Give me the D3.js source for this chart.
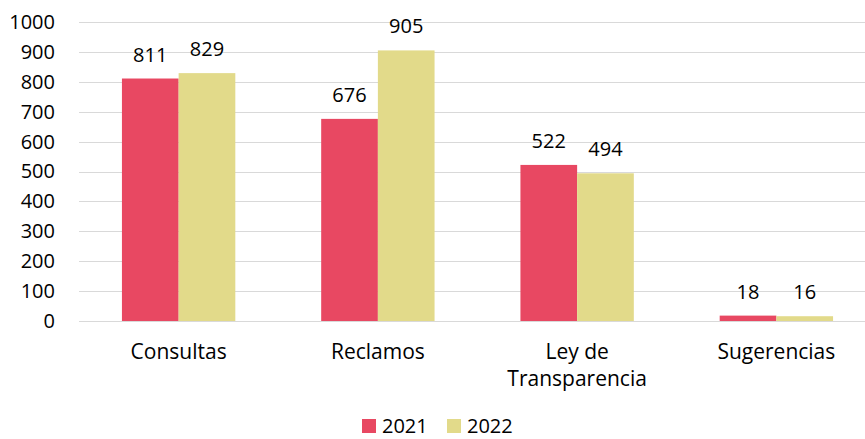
<!DOCTYPE html>
<html lang="es">
<head>
<meta charset="UTF-8">
<script src="https://d3js.org/d3.v7.min.js"></script>
<title>Consultas y reclamos</title>
<style>
body { margin: 0; background: #fff; }
svg { display: block; }
text { font-family: 'Open Sans', sans-serif; fill: #000; }
</style>
</head>
<body>
<svg id="canvas"></svg>
<script>
let categories = ['Consultas', 'Reclamos', 'Ley de Transparencia', 'Sugerencias']
let seriesNames = ['2021', '2022']
let values2021 = [811, 676, 522, 18]
let values2022 = [829, 905, 494, 16]
let yTicks = [0, 100, 200, 300, 400, 500, 600, 700, 800, 900, 1000]
let colors = ['#e84862', '#e2da8a']

let width = 865
let height = 439
let plotLeft = 79, plotRight = 876, plotTop = 22, plotBottom = 321

let svg = d3.select('#canvas').attr('width', width).attr('height', height)

let xScale = d3.scaleBand().domain(categories).range([plotLeft, plotRight]).paddingInner(0.431).paddingOuter(0.2155)
let xInner = d3.scaleBand().domain(seriesNames).range([0, xScale.bandwidth()])
let yScale = d3.scaleLinear().domain([0, 1000]).range([plotBottom, plotTop])

// gridlines
svg.append('g').selectAll('line')
    .data(yTicks)
    .enter()
    .append('line')
    .attr('x1', plotLeft)
    .attr('x2', plotRight)
    .attr('y1', d => Math.round(yScale(d)) + 0.5)
    .attr('y2', d => Math.round(yScale(d)) + 0.5)
    .attr('stroke', '#d9d9d9')
    .attr('stroke-width', 1)

// y axis labels
let yAxis = d3.axisLeft(yScale).tickValues(yTicks).tickFormat(d3.format('d')).tickSize(0).tickPadding(0)
let yg = svg.append('g')
    .attr('transform', 'translate(' + 55 + ',0)')
    .call(yAxis)
yg.select('.domain').remove()
yg.selectAll('text').attr('font-size', '20px').attr('font-family', 'Open Sans, sans-serif').attr('fill', '#000')

let rows = categories.map((c, i) => ({cat: c, vals: [values2021[i], values2022[i]]}))

let groups = svg.append('g').selectAll('g')
    .data(rows)
    .enter()
    .append('g')
    .attr('transform', d => 'translate(' + xScale(d.cat) + ',0)')

groups.selectAll('rect')
    .data(d => d.vals.map((v, j) => ({key: seriesNames[j], v: v, j: j})))
    .enter()
    .append('rect')
    .attr('x', d => xInner(d.key))
    .attr('width', xInner.bandwidth())
    .attr('y', d => yScale(d.v))
    .attr('height', d => yScale(0) - yScale(d.v))
    .attr('fill', d => colors[d.j])

groups.selectAll('text')
    .data(d => d.vals.map((v, j) => ({key: seriesNames[j], v: v, j: j})))
    .enter()
    .append('text')
    .attr('x', d => xInner(d.key) + xInner.bandwidth() / 2)
    .attr('y', d => yScale(d.v) - 17)
    .attr('text-anchor', 'middle')
    .attr('font-size', '20px')
    .text(d => d.v)

// category labels
let xg = svg.append('g')
xg.selectAll('text')
    .data(categories)
    .enter()
    .append('text')
    .attr('x', d => xScale(d) + xScale.bandwidth() / 2)
    .attr('y', 359)
    .attr('text-anchor', 'middle')
    .attr('font-size', '21px')
    .each(function (d) {
        let parts = d === 'Ley de Transparencia' ? ['Ley de', 'Transparencia'] : [d]
        let t = d3.select(this)
        parts.forEach((p, k) => {
            t.append('tspan')
                .attr('x', xScale(d) + xScale.bandwidth() / 2)
                .attr('dy', k === 0 ? 0 : 27)
                .text(p)
        })
    })

// legend
let legendX = [362, 447]
let legend = svg.append('g').selectAll('g')
    .data(seriesNames)
    .enter()
    .append('g')
    .attr('transform', (d, i) => 'translate(' + legendX[i] + ',419)')
legend.append('rect')
    .attr('width', 14)
    .attr('height', 14)
    .attr('fill', (d, i) => colors[i])
legend.append('text')
    .attr('x', 20)
    .attr('y', 14)
    .attr('font-size', '20px')
    .text(d => d)
</script>
</body>
</html>
